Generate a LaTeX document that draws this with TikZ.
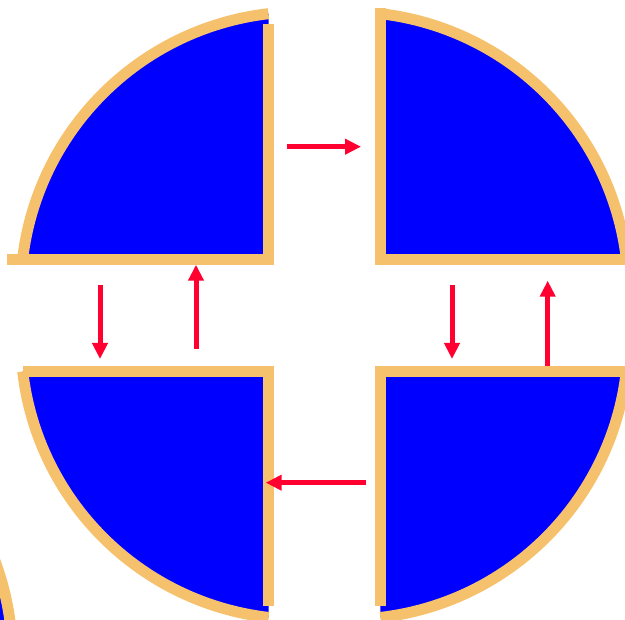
\documentclass[tikz,border=0pt]{standalone}
\usetikzlibrary{arrows.meta}
\definecolor{qblue}{HTML}{0000FF}
\definecolor{qorange}{HTML}{F6C16C}
\definecolor{qred}{HTML}{FF0030}
\begin{document}
\begin{tikzpicture}[x=1pt,y=-1pt,
  rim/.style={draw=qorange,line width=11pt},
  body/.style={fill=qblue},
  flow/.style={draw=qred,line width=5pt,-{Triangle[length=16pt,width=15pt]}}]
\useasboundingbox (0,0) rectangle (625,620);
\clip (0,0) rectangle (625,620);
% partial disk at bottom-left corner
\coordinate (px) at (-267.5,658.8);
\fill[body] (px) circle[radius=280];
\draw[rim] (px) circle[radius=280];
% top-left quarter
\coordinate (tl) at (268.5,259.5);
\fill[body] (tl) -- (268.5,13.7) arc[start angle=263.4,end angle=186.6,radius=280] -- cycle;
\draw[rim] (268.5,13.7) arc[start angle=263.4,end angle=186.6,radius=280];
\draw[rim] (7,259.5) -- (274,259.5);
\draw[rim] (268.5,24) -- (268.5,265);
% top-right quarter
\coordinate (tr) at (380.5,259.5);
\fill[body] (tr) -- (380.5,13.7) arc[start angle=276.6,end angle=353.4,radius=280] -- cycle;
\draw[rim] (380.5,13.7) arc[start angle=276.6,end angle=353.4,radius=280];
\draw[rim] (380.5,8) -- (380.5,265);
\draw[rim] (375,259.5) -- (632,259.5);
% bottom-left quarter
\coordinate (bl) at (268.5,371.5);
\fill[body] (bl) -- (22.7,371.5) arc[start angle=173.4,end angle=96.6,radius=280] -- cycle;
\draw[rim] (22.7,371.5) arc[start angle=173.4,end angle=96.6,radius=280];
\draw[rim] (23,371.5) -- (274,371.5);
\draw[rim] (268.5,366) -- (268.5,605.7);
% bottom-right quarter
\coordinate (br) at (380.5,371.5);
\fill[body] (br) -- (626.3,371.5) arc[start angle=6.6,end angle=83.4,radius=280] -- cycle;
\draw[rim] (626.3,371.5) arc[start angle=6.6,end angle=83.4,radius=280];
\draw[rim] (375,371.5) -- (632,371.5);
\draw[rim] (380.5,366) -- (380.5,605.7);
% arrows
\coordinate (a1s) at (286.5,146.7); \coordinate (a1e) at (361,146.7);
\coordinate (a2s) at (366,482.7);   \coordinate (a2e) at (265.7,482.7);
\coordinate (a3s) at (100,285);     \coordinate (a3e) at (100,359);
\coordinate (a4s) at (196,349);     \coordinate (a4e) at (196,264.7);
\coordinate (a5s) at (452,285);     \coordinate (a5e) at (452,359);
\coordinate (a6s) at (547.7,365.7); \coordinate (a6e) at (547.7,280.7);
\draw[flow] (a1s) -- (a1e);
\draw[flow] (a2s) -- (a2e);
\draw[flow] (a3s) -- (a3e);
\draw[flow] (a4s) -- (a4e);
\draw[flow] (a5s) -- (a5e);
\draw[flow] (a6s) -- (a6e);
\end{tikzpicture}
\end{document}
